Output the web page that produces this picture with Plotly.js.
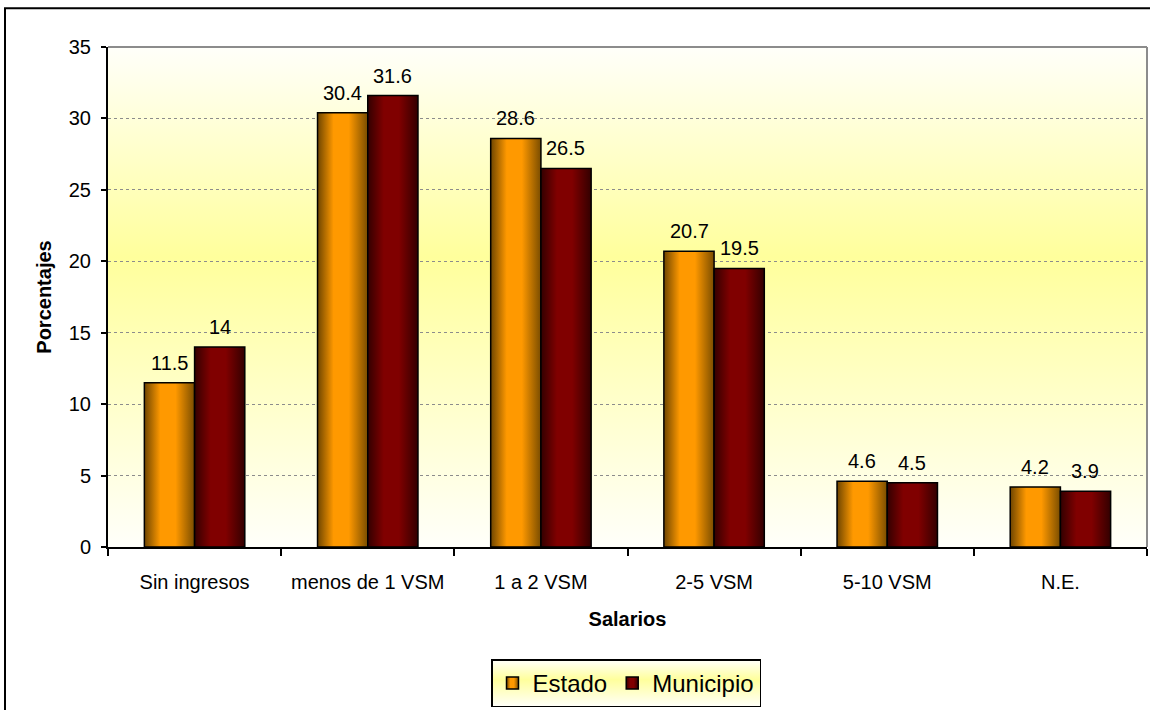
<!DOCTYPE html>
<html>
<head>
<meta charset="utf-8">
<script src="https://cdn.plot.ly/plotly-3.0.1.min.js"></script>
<style>
html,body{margin:0;padding:0;background:#fff;}
#chart{width:1150px;height:710px;}
</style>
</head>
<body>
<div id="chart"></div>
<script>
// ---- data ----
const categories = ["Sin ingresos", "menos de 1 VSM", "1 a 2 VSM", "2-5 VSM", "5-10 VSM", "N.E."];
const estado = [11.5, 30.4, 28.6, 20.7, 4.6, 4.2];
const municipio = [14, 31.6, 26.5, 19.5, 4.5, 3.9];
const estadoLabels = ["11.5", "30.4", "28.6", "20.7", "4.6", "4.2"];
const municipioLabels = ["14", "31.6", "26.5", "19.5", "4.5", "3.9"];
const yTicks = [0, 5, 10, 15, 20, 25, 30, 35];

const FONT = '"Liberation Sans", Arial, sans-serif';
const W = 1150, H = 710;
const L = 108, R = 3, T = 47, B = 160;
const pw = W - L - R, ph = H - T - B;
const px = v => (v - L) / pw;
const py = v => (H - B - v) / ph;

const traces = [
  {
    type: 'bar', name: 'Estado', x: categories, y: estado,
    marker: {color: '#FF9900', line: {color: '#000', width: 1.5}},
    hoverinfo: 'skip'
  },
  {
    type: 'bar', name: 'Municipio', x: categories, y: municipio,
    marker: {color: '#800000', line: {color: '#000', width: 1.5}},
    hoverinfo: 'skip'
  }
];

// value labels placed above each bar (data-driven positions)
const annotations = [];
categories.forEach((c, i) => {
  annotations.push({xref: 'x', yref: 'y', x: c, y: estado[i], text: estadoLabels[i],
    showarrow: false, xanchor: 'center', yanchor: 'bottom', xshift: -25, yshift: 7,
    font: {family: FONT, size: 20, color: '#000'}});
  annotations.push({xref: 'x', yref: 'y', x: c, y: municipio[i], text: municipioLabels[i],
    showarrow: false, xanchor: 'center', yanchor: 'bottom', xshift: 25, yshift: 7,
    font: {family: FONT, size: 20, color: '#000'}});
});

const layout = {
  width: W, height: H,
  margin: {l: L, r: R, t: T, b: B, pad: 0},
  paper_bgcolor: '#ffffff',
  plot_bgcolor: '#FFFFCC',
  font: {family: FONT, size: 20, color: '#000'},
  barmode: 'group',
  bargap: 0.42,
  bargroupgap: 0,
  showlegend: true,
  legend: {
    orientation: 'h', x: px(626), xanchor: 'center', y: py(663), yanchor: 'top',
    font: {family: FONT, size: 24, color: '#000'},
    bordercolor: '#000', borderwidth: 1.5, bgcolor: '#fff',
    itemwidth: 30, traceorder: 'normal'
  },
  annotations: annotations,
  xaxis: {
    type: 'category', tickson: 'boundaries',
    ticks: 'outside', ticklen: 7, tickwidth: 2, tickcolor: '#000',
    showline: true, linecolor: '#000', linewidth: 2,
    showgrid: false, zeroline: false,
    tickfont: {family: FONT, size: 20, color: '#000'},
    ticklabelstandoff: 16,
    title: {text: '<b>Salarios</b>', font: {family: FONT, size: 20, color: '#000'}, standoff: 20}
  },
  yaxis: {
    range: [0, 35], tickvals: yTicks, ticktext: yTicks.map(String),
    ticks: 'outside', ticklen: 5, tickwidth: 2, tickcolor: '#000',
    showline: true, linecolor: '#000', linewidth: 2,
    showgrid: true, gridcolor: '#8c8c8c', gridwidth: 1, griddash: 'dot',
    zeroline: false,
    tickfont: {family: FONT, size: 20, color: '#000'},
    ticklabelstandoff: 6,
    title: {text: '<b>Porcentajes</b>', font: {family: FONT, size: 20, color: '#000'}, standoff: 12}
  },
  shapes: [
    {type: 'line', xref: 'paper', yref: 'paper', x0: 0, x1: 1, y0: 1, y1: 1, line: {color: '#8c8c8c', width: 2}},
    {type: 'line', xref: 'paper', yref: 'paper', x0: 1, x1: 1, y0: 0, y1: 1, line: {color: '#8c8c8c', width: 2}},
    {type: 'rect', xref: 'paper', yref: 'paper', x0: px(5), x1: px(1160), y0: py(8), y1: py(720), line: {color: '#000', width: 2}, layer: 'below'}
  ]
};

Plotly.newPlot('chart', traces, layout, {staticPlot: true, displayModeBar: false}).then(gd => {
  const NS = 'http://www.w3.org/2000/svg';
  const svg = gd.querySelector('.main-svg');
  let defs = svg.querySelector('defs');
  if (!defs) { defs = document.createElementNS(NS, 'defs'); svg.insertBefore(defs, svg.firstChild); }
  function grad(id, stops, vertical) {
    const g = document.createElementNS(NS, 'linearGradient');
    g.setAttribute('id', id);
    g.setAttribute('x1', '0'); g.setAttribute('y1', '0');
    g.setAttribute('x2', vertical ? '0' : '1'); g.setAttribute('y2', vertical ? '1' : '0');
    stops.forEach(([o, c]) => {
      const s = document.createElementNS(NS, 'stop');
      s.setAttribute('offset', o); s.setAttribute('stop-color', c);
      g.appendChild(s);
    });
    defs.appendChild(g);
  }
  grad('gOrange', [[0, '#6e4500'], [0.32, '#FF9900'], [0.62, '#FF9900'], [1, '#7a4d00']], false);
  grad('gMaroon', [[0, '#330000'], [0.32, '#800000'], [0.62, '#800000'], [1, '#330000']], false);
  grad('gBg', [[0, '#FFFFFA'], [0.42, '#FFFF9C'], [1, '#FFFFFA']], true);

  const fills = ['url(#gOrange)', 'url(#gMaroon)'];
  gd.querySelectorAll('.barlayer .trace').forEach((tr, i) => {
    tr.querySelectorAll('.point path').forEach(p => { p.style.fill = fills[i]; });
  });
  gd.querySelectorAll('.legend .traces').forEach((tr, i) => {
    tr.querySelectorAll('.legendpoints path').forEach(p => { p.style.fill = fills[i]; p.style.stroke = '#000'; });
  });
  gd.querySelectorAll('rect.bg').forEach(r => { r.style.fill = 'url(#gBg)'; });
});
</script>
</body>
</html>
